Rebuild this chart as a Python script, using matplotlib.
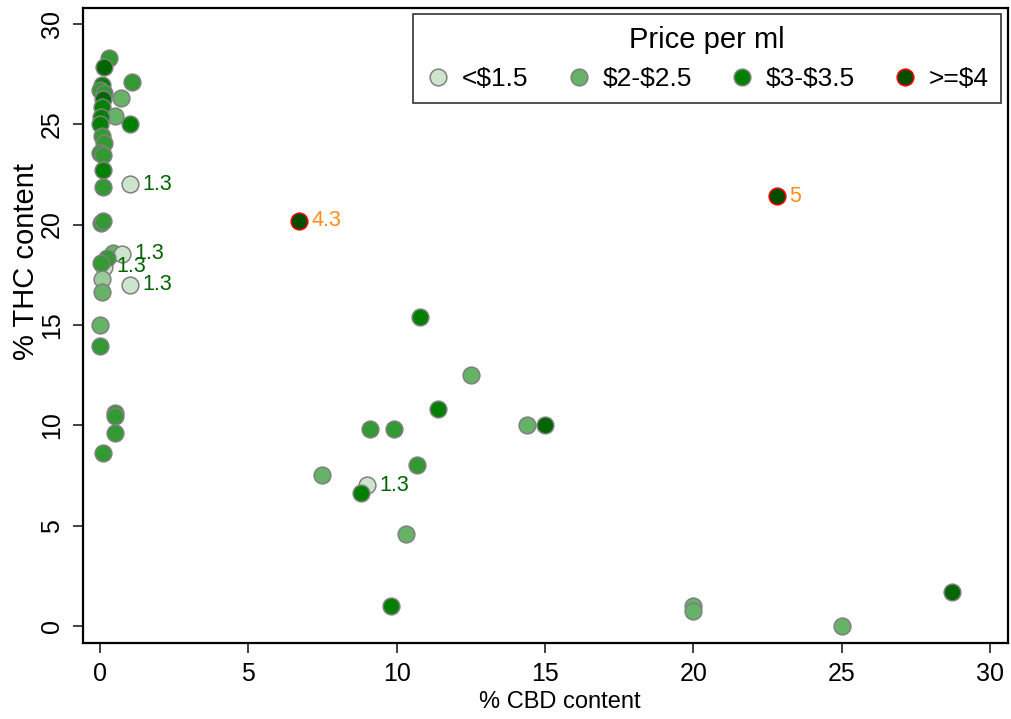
import matplotlib
matplotlib.use("Agg")
import matplotlib.pyplot as plt
from matplotlib.lines import Line2D

plt.rcParams['font.family'] = ['Liberation Sans', 'DejaVu Sans']

# ---- data ----
cbd = [0.3, 0.13, 1.08, 0.07, 0.0, 0.13, 0.7, 0.1, 0.07, 0.5, 0.03, 1.0, 0.0,
       0.07, 0.13, 0.0, 0.1, 0.1, 0.1, 1.0, 0.05, 0.1, 0.15, 0.45, 0.73, 0.23,
       0.03, 0.07, 0.07, 0.0, 0.0, 0.5, 0.5, 0.5, 0.1, 1.0, 6.7, 22.8, 10.8,
       12.5, 11.4, 9.1, 9.9, 14.4, 15.0, 10.7, 7.5, 9.0, 8.8, 10.3, 9.8, 20.0,
       20.0, 25.0, 28.7]
thc = [28.3, 27.85, 27.1, 26.95, 26.7, 26.55, 26.3, 26.25, 25.85, 25.4, 25.35,
       25.0, 25.0, 24.4, 24.05, 23.55, 23.45, 22.7, 21.85, 22.0, 20.1, 20.2,
       17.9, 18.6, 18.55, 18.35, 18.1, 17.3, 16.65, 15.0, 13.95, 10.6, 10.45,
       9.6, 8.6, 17.0, 20.2, 21.4, 15.4, 12.5, 10.8, 9.8, 9.8, 10.0, 10.0, 8.0,
       7.5, 7.0, 6.6, 4.6, 1.0, 1.0, 0.75, 0.0, 1.7]
price = [2.5, 3.5, 2.5, 3.0, 2.5, 2.5, 2.0, 3.5, 3.0, 2.0, 3.0, 3.0, 3.0,
         2.5, 2.5, 2.5, 2.5, 3.0, 2.5, 1.3, 2.5, 2.5, 1.3, 2.0, 1.3, 2.5,
         2.5, 1.8, 2.0, 2.0, 2.5, 2.5, 2.5, 2.5, 2.5, 1.3, 4.3, 5.0, 3.0,
         2.0, 3.0, 2.5, 2.5, 2.0, 3.5, 2.5, 2.0, 1.3, 3.0, 2.0, 3.0, 2.0,
         2.0, 2.0, 3.5]

legend_labels = ['<\\$1.5', '\\$2-\\$2.5', '\\$3-\\$3.5', '>=\\$4']
legend_colors = ['#cce5cc', '#66b266', '#008000', '#004d00']
legend_edges = ['#808080', '#808080', '#808080', '#ff0000']


def face_color(p):
    if p < 1.5:
        return '#cce5cc'
    if p < 1.9:
        return '#99cc99'
    if p < 2.25:
        return '#66b266'
    if p < 2.75:
        return '#339933'
    if p < 3.25:
        return '#008000'
    if p < 4:
        return '#006600'
    return '#004d00'


fig = plt.figure(figsize=(10.12, 7.19), dpi=100)
ax = fig.add_axes([83/1012, 1-643/719, 925/1012, 635/719])

for x, y, p in zip(cbd, thc, price):
    ec = '#ff0000' if p >= 4 else '#808080'
    z = 2 if (p < 1.5 and x < 0.5 and 17.5 < y < 18.2) else 3
    ax.scatter([x], [y], s=145, c=face_color(p), edgecolors=ec,
               linewidths=1.1, zorder=z)
    if p < 1.5:
        ax.annotate(f'{p:g}', (x, y), xytext=(9, 0), textcoords='offset points',
                    ha='left', va='center', fontsize=15.5, color='#006400', zorder=4)
    elif p >= 4:
        ax.annotate(f'{p:g}', (x, y), xytext=(9, 0), textcoords='offset points',
                    ha='left', va='center', fontsize=15.5, color='#ff8c1a', zorder=4)

ax.set_xlim(-0.57, 30.6)
ax.set_ylim(-0.85, 30.79)
ax.set_xticks([0, 5, 10, 15, 20, 25, 30])
ax.set_yticks([0, 5, 10, 15, 20, 25, 30])
ax.tick_params(axis='both', direction='out', length=7.5, width=1.3,
               color='#333333', labelsize=18, pad=6)
for lab in ax.get_yticklabels():
    lab.set_rotation(90)
    lab.set_va('center')
for s in ax.spines.values():
    s.set_linewidth(1.6)
ax.set_xlabel('% CBD content', fontsize=17)
ax.xaxis.set_label_coords(0.516, -0.075)
ax.set_ylabel('% THC content', fontsize=21)
ax.yaxis.set_label_coords(-0.046, 0.6)

handles = [Line2D([], [], marker='o', linestyle='none', markersize=12,
                  markerfacecolor=c, markeredgecolor=e, markeredgewidth=1.1)
           for c, e in zip(legend_colors, legend_edges)]
leg = ax.legend(handles, legend_labels, title='Price per ml', ncol=4,
                loc='upper right', bbox_to_anchor=(0.992, 0.99),
                borderaxespad=0, fontsize=19, title_fontsize=21,
                frameon=True, fancybox=False, handletextpad=0.4,
                columnspacing=1.4, handlelength=1.0, borderpad=0.45)
leg.get_frame().set_edgecolor('black')
leg.get_frame().set_linewidth(1.2)

fig.savefig('out.png', dpi=100)
